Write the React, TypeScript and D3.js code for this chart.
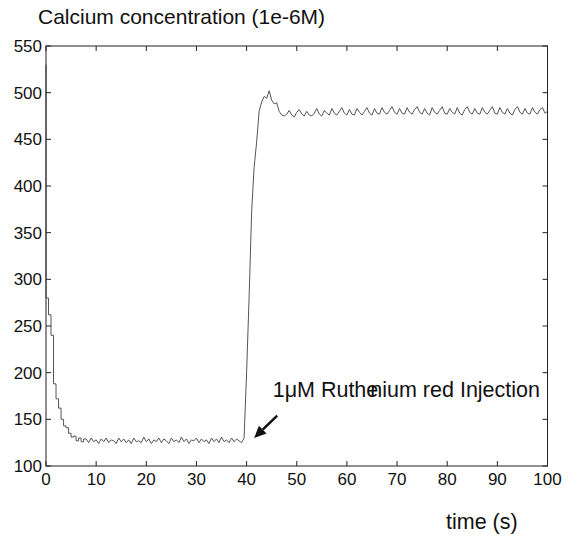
import React from 'react';
import * as d3 from 'd3';

// sampling step of the recorded trace (seconds)
const SAMPLE_STEP = 0.5;

// t = 0 .. 7.5 s : fast decay after start
const decayValues = [530, 280, 262, 240, 188, 172, 162, 150, 143, 141, 135, 131, 132, 127, 130, 126];

// t = 8 .. 39.5 s : low baseline
const baselineValues = [
  129, 125, 130, 126, 128, 124, 129, 126, 130, 125, 128, 127, 124, 130, 126, 129,
  125, 128, 124, 130, 126, 127, 125, 131, 126, 129, 124, 128, 126, 130, 125, 129,
  127, 124, 130, 126, 128, 125, 131, 126, 129, 124, 128, 127, 130, 125, 129, 126,
  128, 124, 130, 126, 129, 125, 131, 126, 128, 125, 130, 126, 129, 127, 125, 130,
];

// t = 40 .. 47 s : rise after injection
const riseValues = [200, 281, 372, 420, 447, 480, 490, 496, 494, 502, 492, 488, 489, 480, 476];

// t = 47.5 .. 100 s : plateau
const plateauValues = [
  475, 477, 481, 476, 474, 479, 482, 477, 475, 480, 476, 475, 478, 483, 477, 475,
  481, 478, 476, 483, 478, 476, 480, 484, 478, 476, 482, 477, 476, 483, 479, 476,
  480, 484, 478, 476, 483, 478, 477, 484, 479, 477, 481, 485, 479, 477, 483, 478,
  477, 484, 479, 477, 482, 485, 479, 477, 483, 478, 476, 484, 479, 477, 481, 485,
  478, 477, 483, 479, 477, 484, 478, 476, 482, 485, 479, 477, 483, 478, 477, 484,
  479, 477, 481, 485, 478, 477, 484, 479, 477, 483, 478, 476, 482, 485, 479, 477,
  483, 478, 477, 484, 479, 477, 482, 484, 478, 480,
];

const xTicks = [0, 10, 20, 30, 40, 50, 60, 70, 80, 90, 100];
const yTicks = [100, 150, 200, 250, 300, 350, 400, 450, 500, 550];
const xDomain = [0, 100];
const yDomain = [100, 550];

const titleText = 'Calcium concentration (1e-6M)';
const xLabelText = 'time (s)';
const annotationHead = '1μM Ruthe';
const annotationTail = 'nium red Injection';
// annotation anchor points in data units [time, value]
const annotationTextAt = [45.2, 174];
const arrowTailAt = [46.1, 154];
const arrowTipAt = [41.5, 130];

export default function App() {
  const W = 572;
  const H = 536;
  const x = d3.scaleLinear().domain(xDomain).range([46, 547.5]);
  const y = d3.scaleLinear().domain(yDomain).range([466, 46]);

  const all = [...decayValues, ...baselineValues, ...riseValues, ...plateauValues];
  const points: [number, number][] = all.map((v, i) => [i * SAMPLE_STEP, v]);
  const decayPts = points.slice(0, decayValues.length + 1);
  const restPts = points.slice(decayValues.length);

  const stepLine = d3
    .line<[number, number]>()
    .x((d) => x(d[0]))
    .y((d) => y(d[1]))
    .curve(d3.curveStepBefore);
  const linLine = d3
    .line<[number, number]>()
    .x((d) => x(d[0]))
    .y((d) => y(d[1]));

  const x0 = x.range()[0];
  const x1 = x.range()[1];
  const y0 = y.range()[0];
  const y1 = y.range()[1];
  const tick = 5;

  // arrow
  const tx = x(arrowTipAt[0]);
  const ty = y(arrowTipAt[1]);
  const sx = x(arrowTailAt[0]);
  const sy = y(arrowTailAt[1]);
  const ang = Math.atan2(ty - sy, tx - sx);
  const headLen = 12;
  const headW = 5.5;
  const bx = tx - headLen * Math.cos(ang);
  const by = ty - headLen * Math.sin(ang);
  const px = -Math.sin(ang) * headW;
  const py = Math.cos(ang) * headW;

  const font = '"Liberation Sans", Arial, Helvetica, sans-serif';

  return (
    <svg
      width={W}
      height={H}
      style={{ position: 'absolute', left: 0, top: 0, background: '#fff' }}
      fontFamily={font}
    >
      <rect x={0} y={0} width={W} height={H} fill="#fff" />
      <text x={38} y={24} fontSize={21} fill="#111">
        {titleText}
      </text>

      {/* trace */}
      <path d={stepLine(decayPts) || ''} fill="none" stroke="#555" strokeWidth={1} />
      <path d={linLine(restPts) || ''} fill="none" stroke="#555" strokeWidth={1} />

      {/* box */}
      <rect x={x0} y={y1} width={x1 - x0} height={y0 - y1} fill="none" stroke="#222" strokeWidth={1} />

      {xTicks.map((t) => (
        <g key={'x' + t}>
          <line x1={x(t)} x2={x(t)} y1={y0} y2={y0 - tick} stroke="#222" />
          <line x1={x(t)} x2={x(t)} y1={y1} y2={y1 + tick} stroke="#222" />
          <text x={x(t)} y={485} fontSize={17} textAnchor="middle" fill="#111">
            {t}
          </text>
        </g>
      ))}
      {yTicks.map((v) => (
        <g key={'y' + v}>
          <line x1={x0} x2={x0 + tick} y1={y(v)} y2={y(v)} stroke="#222" />
          <line x1={x1} x2={x1 - tick} y1={y(v)} y2={y(v)} stroke="#222" />
          <text x={42} y={y(v) + 6} fontSize={17} textAnchor="end" fill="#111">
            {v}
          </text>
        </g>
      ))}

      <text x={446} y={529} fontSize={21.5} fill="#111">
        {xLabelText}
      </text>

      {/* annotation */}
      <text x={x(annotationTextAt[0])} y={y(annotationTextAt[1])} fontSize={21.5} fill="#111">
        {annotationHead}
        <tspan dx={-8}>{annotationTail}</tspan>
      </text>
      <line x1={sx} y1={sy} x2={bx} y2={by} stroke="#111" strokeWidth={2.5} />
      <polygon
        points={`${tx},${ty} ${bx + px},${by + py} ${bx - px},${by - py}`}
        fill="#111"
      />
    </svg>
  );
}
